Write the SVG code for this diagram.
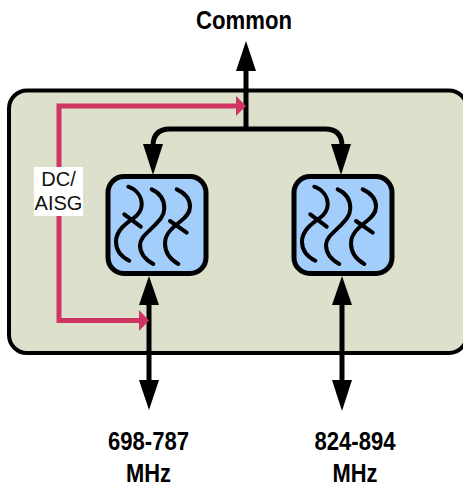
<svg xmlns="http://www.w3.org/2000/svg" width="463" height="486" viewBox="0 0 463 486">
<style>
.lbl{font-family:"Liberation Sans",Arial,sans-serif;font-weight:bold;font-size:25px;fill:#000;text-anchor:middle}
.dc{font-family:"Liberation Sans",Arial,sans-serif;font-size:20px;fill:#111;text-anchor:middle}
.blk{fill:none;stroke:#000;stroke-width:5}
.red{fill:none;stroke:#cf3562;stroke-width:5}
.ah{fill:#000}
.rh{fill:#cf3562}
.box{fill:#a3cdfa;stroke:#000;stroke-width:5}
.w{fill:none;stroke:#000;stroke-width:4;stroke-linecap:round}
</style>
<defs>
<g id="waves">
<path class="w" d="M0.300 0.700C9 4 14 11 13.700 19C13.400 25 10 29 5.300 32.300C-3 38 -12 45 -12 55.700C-12 65 -6 71 1.300 74.700"/>
<path class="w" d="M-3.700 28.300L12.700 40.700"/>
<path class="w" d="M23.700 3.300C32 7 36.300 14 36.300 22.300C36.300 30 31 35 25.300 40.700C19 47 12 52 12 59C12 68 18 74 25.300 78"/>
<path class="w" d="M48.700 3.300C57 7 62 13 62 20.700C62 27 58 31 52 35.700C44 42 37 48 37 57.300C37 67 43 74 50.300 78"/>
<path class="w" d="M42 35L58.700 46.700"/>
</g>
</defs>
<g id="enclosure"><rect x="9" y="90.500" width="458" height="262.500" rx="18" fill="#dde0ca" stroke="#000" stroke-width="4"/></g>
<g id="connectors">
<path class="blk" d="M246 68V129"/>
<path class="ah" d="M246 41L256 71H236Z"/>
<path class="blk" d="M153 148V146Q153 129 170 129H325Q342 129 342 146V148"/>
<path class="ah" d="M153 175L143 144H163Z"/>
<path class="ah" d="M341 175L331 144H351Z"/>
<path class="blk" d="M149 300V384"/>
<path class="ah" d="M149 276L159 305H139Z"/>
<path class="ah" d="M149 410L139 380H159Z"/>
<path class="blk" d="M342 300V384"/>
<path class="ah" d="M342 276L352 305H332Z"/>
<path class="ah" d="M342 411L332 380H352Z"/>
<path class="red" d="M59 170V106H238"/>
<path class="rh" d="M246 106L236 96V116Z"/>
<path class="red" d="M59 210V320.500H142"/>
<path class="rh" d="M149 320.500L139 310V331Z"/>
</g>
<g id="dc-label"><rect x="34" y="167" width="49" height="49" fill="#fff"/>
<text class="dc" x="58.500" y="186">DC/</text><text class="dc" x="58.500" y="210">AISG</text></g>
<g id="filter-1"><rect class="box" x="108" y="176.500" width="98" height="97" rx="16"/><use href="#waves" x="128" y="186"/></g>
<g id="filter-2"><rect class="box" x="294" y="176.500" width="98" height="97" rx="16"/><use href="#waves" x="314" y="186"/></g>
<g id="labels">
<text class="lbl" x="244" y="29" textLength="96" lengthAdjust="spacingAndGlyphs">Common</text>
<text class="lbl" x="148.500" y="450" textLength="81" lengthAdjust="spacingAndGlyphs">698-787</text>
<text class="lbl" x="148.500" y="482" textLength="45" lengthAdjust="spacingAndGlyphs">MHz</text>
<text class="lbl" x="355" y="450" textLength="81" lengthAdjust="spacingAndGlyphs">824-894</text>
<text class="lbl" x="355" y="482" textLength="45" lengthAdjust="spacingAndGlyphs">MHz</text>
</g>
</svg>
